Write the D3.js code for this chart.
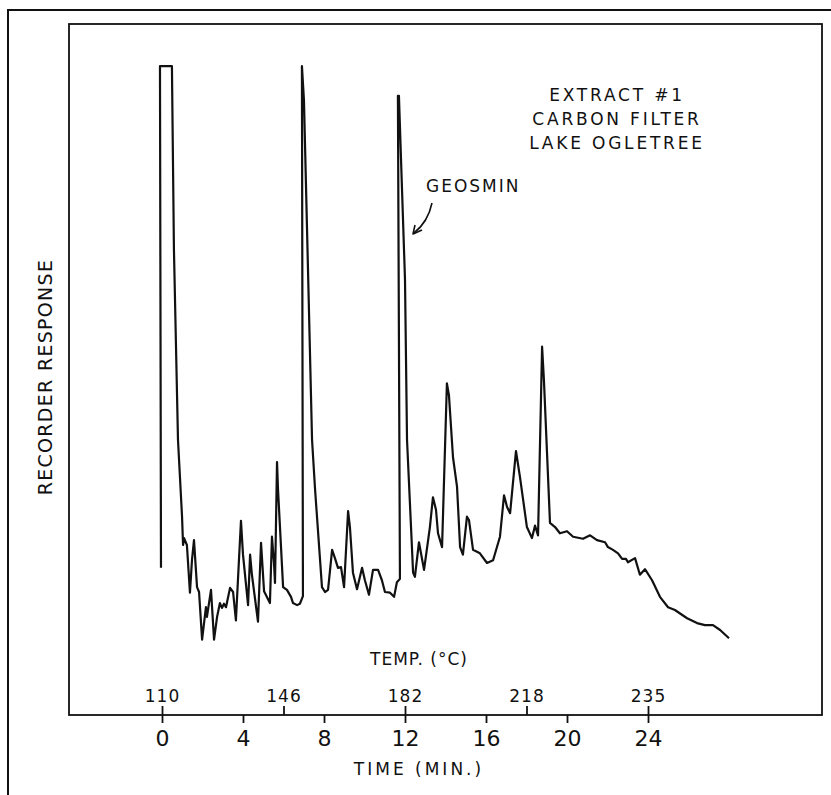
<!DOCTYPE html>
<html>
<head>
<meta charset="utf-8">
<script src="https://cdn.jsdelivr.net/npm/d3@7"></script>
<style>
  body { margin: 0; background: #fff; }
  text { font-family: "DejaVu Sans", sans-serif; fill: #111; }
</style>
</head>
<body>
<svg id="chart" width="831" height="795"></svg>
<script>
// chromatogram trace
var timeMin = [-0.05, -0.10, 0.49, 0.59, 0.79, 0.99, 1.04, 1.09, 1.23, 1.38, 1.48, 1.58, 1.73, 1.83, 1.98,
  2.17, 2.22, 2.42, 2.57, 2.72, 2.86, 2.96, 3.06, 3.16, 3.36, 3.51, 3.65, 3.80, 3.90, 4.00,
  4.25, 4.35, 4.44, 4.74, 4.89, 5.04, 5.33, 5.43, 5.53, 5.58, 5.68, 5.73, 5.98, 6.17, 6.37,
  6.47, 6.67, 6.81, 6.96, 6.91, 7.01, 7.41, 7.56, 7.90, 8.05, 8.20, 8.40, 8.54, 8.69, 8.84,
  8.99, 9.19, 9.28, 9.43, 9.63, 9.88, 10.02, 10.22, 10.42, 10.67, 10.86, 11.01, 11.26, 11.46, 11.60,
  11.75, 11.65, 11.70, 12.00, 12.10, 12.40, 12.49, 12.69, 12.94, 13.23, 13.38, 13.53, 13.63, 13.83, 14.07,
  14.17, 14.37, 14.57, 14.72, 14.86, 15.06, 15.16, 15.36, 15.70, 16.05, 16.35, 16.69, 16.89, 17.04, 17.19,
  17.48, 17.68, 18.02, 18.27, 18.42, 18.57, 18.77, 18.86, 19.16, 19.41, 19.65, 20.00, 20.30, 20.79, 21.14,
  21.48, 21.88, 22.02, 22.27, 22.52, 22.72, 22.91, 23.01, 23.36, 23.60, 23.85, 24.20, 24.59, 24.99, 25.33,
  25.93, 26.42, 26.81, 27.21, 27.56, 28.00];

var response = [21.3, 93.9, 93.9, 67.3, 39.8, 28.7, 24.6, 25.6, 24.6, 17.7, 22.4, 25.3, 18.5, 17.8, 10.9,
  15.6, 14.2, 18.1, 10.9, 14.2, 16.2, 15.5, 16.1, 15.6, 18.4, 17.8, 13.7, 22.4, 28.1, 23.2,
  15.9, 23.2, 20.3, 13.5, 24.9, 17.9, 16.2, 25.8, 22.0, 19.1, 36.6, 32.6, 18.5, 18.1, 17.1,
  16.2, 15.9, 16.1, 17.2, 93.9, 89.0, 39.8, 32.6, 18.5, 17.8, 18.1, 23.9, 22.7, 21.3, 21.4,
  18.5, 29.5, 27.2, 20.6, 18.2, 21.3, 19.5, 17.4, 21.0, 21.0, 19.5, 17.8, 17.7, 17.1, 19.2,
  19.7, 89.6, 89.6, 63.0, 39.8, 20.6, 20.0, 25.0, 21.0, 27.2, 31.5, 29.7, 26.3, 24.3, 48.0,
  46.3, 37.3, 33.0, 24.3, 23.2, 28.7, 28.2, 23.9, 23.4, 22.0, 22.4, 25.8, 31.8, 30.1, 29.2,
  38.2, 34.4, 27.2, 25.6, 27.4, 26.0, 53.3, 48.5, 27.8, 27.2, 26.3, 26.6, 25.8, 25.5, 26.0,
  25.3, 25.0, 24.3, 23.9, 23.4, 22.6, 22.6, 22.1, 22.7, 20.3, 21.1, 19.5, 17.1, 15.6, 15.2,
  14.0, 13.3, 13.0, 13.0, 12.3, 11.1];

var timeTicks = [0, 4, 8, 12, 16, 20, 24];
var tempTickTimes = [0, 6, 12, 18, 24];
var tempLabels = ["110", "146", "182", "218", "235"];
var sampleLines = ["EXTRACT #1", "CARBON FILTER", "LAKE OGLETREE"];

var svg = d3.select("#chart");

var x = d3.scaleLinear().domain([0, 24]).range([162, 648]);
var y = d3.scaleLinear().domain([0, 100]).range([715, 24]);

// outer border (open at right and bottom)
svg.append("path")
    .attr("d", "M8,795 L8,10 L831,10")
    .attr("fill", "none").attr("stroke", "#111").attr("stroke-width", 2);

// inner plot frame
svg.append("rect")
    .attr("x", 69).attr("y", 24)
    .attr("width", 822 - 69).attr("height", 715 - 24)
    .attr("fill", "none").attr("stroke", "#111").attr("stroke-width", 1.8);

// time axis (ticks down)
var timeAxis = d3.axisBottom(x).tickValues(timeTicks).tickSize(8).tickPadding(6).tickFormat(d3.format("d"));
var gt = svg.append("g").attr("transform", "translate(0,715)").call(timeAxis);
gt.select(".domain").remove();
gt.selectAll("line").attr("stroke", "#111").attr("stroke-width", 1.8);
gt.selectAll("text").attr("font-size", 22).attr("font-family", "DejaVu Sans").attr("fill", "#111")
    .attr("dy", "0.75em");

// temperature axis (ticks up)
var tempAxis = d3.axisTop(x).tickValues(tempTickTimes).tickSize(9).tickPadding(4)
    .tickFormat(function(d, i) { return tempLabels[i]; });
var gT = svg.append("g").attr("transform", "translate(0,715)").call(tempAxis);
gT.select(".domain").remove();
gT.selectAll("line").attr("stroke", "#111").attr("stroke-width", 1.8);
gT.selectAll("text").attr("font-size", 17).attr("font-family", "DejaVu Sans").attr("fill", "#111")
    .attr("letter-spacing", 1);

// trace
var points = timeMin.map(function(t, i) { return [t, response[i]]; });
var line = d3.line()
    .x(function(d) { return x(d[0]); })
    .y(function(d) { return y(d[1]); });

svg.append("path")
    .datum(points)
    .attr("d", line)
    .attr("fill", "none")
    .attr("stroke", "#111")
    .attr("stroke-width", 2.2)
    .attr("stroke-linejoin", "round");

// labels
svg.append("text").attr("x", 419).attr("y", 665).attr("text-anchor", "middle")
    .attr("font-size", 17).attr("letter-spacing", 1).text("TEMP. (°C)");

svg.append("text").attr("x", 419).attr("y", 775).attr("text-anchor", "middle")
    .attr("font-size", 17).attr("letter-spacing", 3).text("TIME (MIN.)");

svg.append("text").attr("transform", "translate(52,377) rotate(-90)").attr("text-anchor", "middle")
    .attr("font-size", 19).attr("letter-spacing", 1.3).text("RECORDER RESPONSE");

svg.selectAll(".sample")
    .data(sampleLines)
    .enter().append("text")
    .attr("class", "sample")
    .attr("x", 617)
    .attr("y", function(d, i) { return 101 + i * 24; })
    .attr("text-anchor", "middle")
    .attr("font-size", 17)
    .attr("letter-spacing", 2.8)
    .text(function(d) { return d; });

svg.append("text").attr("x", 426).attr("y", 192)
    .attr("font-size", 17).attr("letter-spacing", 2).text("GEOSMIN");

// arrow pointing at the geosmin peak
svg.append("path")
    .attr("d", "M432,203 Q428,222 414,233")
    .attr("fill", "none").attr("stroke", "#111").attr("stroke-width", 1.6);
svg.append("path")
    .attr("d", "M415,225 L413,234 L422,230")
    .attr("fill", "none").attr("stroke", "#111").attr("stroke-width", 1.6)
    .attr("stroke-linejoin", "round");
</script>
</body>
</html>
